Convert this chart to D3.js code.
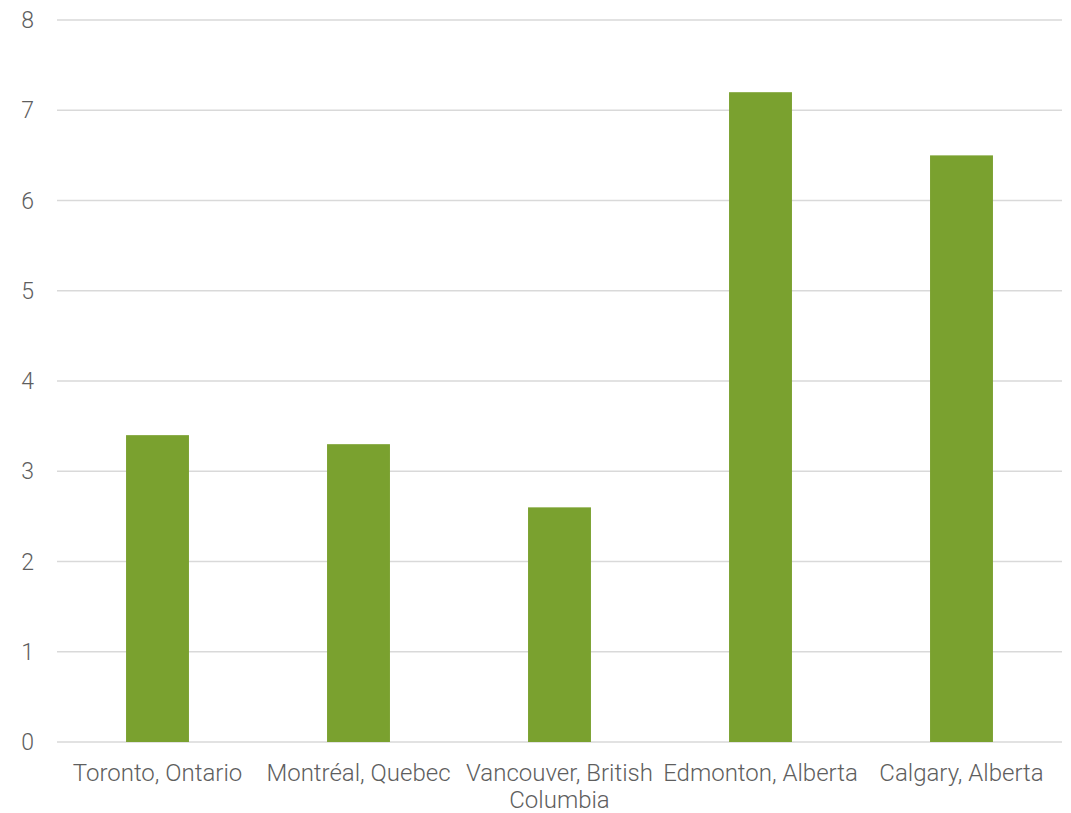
<!DOCTYPE html>
<html><head><meta charset="utf-8">
<script src="https://cdn.jsdelivr.net/npm/d3@7"></script>
<style>
body{margin:0;background:#fff;}
text{font-family:Roboto,sans-serif;font-weight:300;fill:#5e5e5e;}
</style></head>
<body><svg id="c" width="1071" height="813"></svg>
<script>
const categories = ["Toronto, Ontario","Montréal, Quebec","Vancouver, British Columbia","Edmonton, Alberta","Calgary, Alberta"];
const categoryLines = [["Toronto, Ontario"],["Montréal, Quebec"],["Vancouver, British","Columbia"],["Edmonton, Alberta"],["Calgary, Alberta"]];
const values = [3.4,3.3,2.6,7.2,6.5];
const yTicks = [0,1,2,3,4,5,6,7,8];

(function(){
const svg = d3.select("#c");
const mL=57,mR=1062,mT=20,mB=742;
const x = d3.scaleBand().domain(categories).range([mL,mR]).paddingInner(0.687).paddingOuter(0.3435);
const y = d3.scaleLinear().domain([0,8]).range([mB,mT]);

svg.append("g").selectAll("line").data(yTicks).join("line")
  .attr("x1",mL).attr("x2",mR)
  .attr("y1",d=>y(d)).attr("y2",d=>y(d))
  .attr("stroke","#d9d9d9").attr("stroke-width",1.5);

svg.append("g").selectAll("text").data(yTicks).join("text")
  .attr("x",34).attr("y",d=>y(d)).attr("dy","0.35em")
  .attr("text-anchor","end").attr("font-size",23).text(d=>d);

svg.append("g").selectAll("rect").data(values).join("rect")
  .attr("x",(d,i)=>x(categories[i])).attr("width",x.bandwidth())
  .attr("y",d=>y(d)).attr("height",d=>y(0)-y(d))
  .attr("fill","#7aa12f");

const lab = svg.append("g").selectAll("text").data(categories).join("text")
  .attr("x",d=>x(d)+x.bandwidth()/2).attr("y",781)
  .attr("text-anchor","middle").attr("font-size",24);
lab.each(function(d,i){
  const t=d3.select(this);
  categoryLines[i].forEach((l,j)=>{
    t.append("tspan").attr("x",x(d)+x.bandwidth()/2).attr("dy",j?27:0).text(l);
  });
});
})();
</script></body></html>
